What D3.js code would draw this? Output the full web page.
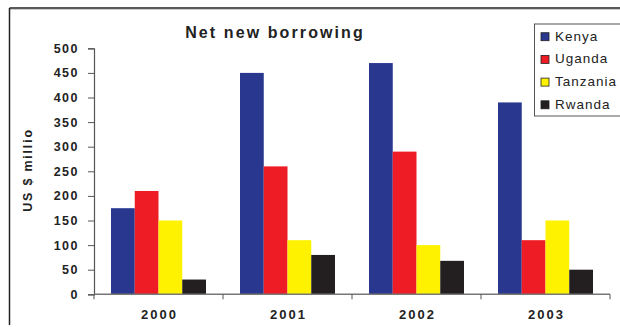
<!DOCTYPE html>
<html>
<head>
<meta charset="utf-8">
<script src="https://cdn.jsdelivr.net/npm/d3@7"></script>
<style>
  body { margin: 0; background: #fff; }
  svg { display: block; font-family: Arial, "Liberation Sans", sans-serif; }
</style>
</head>
<body>
<div id="chart"></div>
<script>
const years = ["2000", "2001", "2002", "2003"]
const countries = ["Kenya", "Uganda", "Tanzania", "Rwanda"]
const colors = ["#29378f", "#ee1d25", "#fff200", "#231f20"]
const kenya = [175, 450, 470, 390]
const uganda = [210, 260, 290, 110]
const tanzania = [150, 110, 100, 150]
const rwanda = [30, 80, 68, 50]
const yTicks = [0, 50, 100, 150, 200, 250, 300, 350, 400, 450, 500]

const seriesValues = [kenya, uganda, tanzania, rwanda]

const W = 620, H = 327
const margin = { top: 48.3, right: 10, bottom: 32.7, left: 94 }
const width = 610 - margin.left,
    height = 294.3 - margin.top

const svg = d3.select("#chart")
    .append("svg")
    .attr("width", W)
    .attr("height", H)

// outer frame (only top and left edges are visible in the picture)
svg.append("line").attr("x1", 9.5).attr("x2", W).attr("y1", 8).attr("y2", 8)
    .attr("stroke", "#222").attr("stroke-width", 1.5)
svg.append("line").attr("x1", 9.5).attr("x2", W).attr("y1", 9.5).attr("y2", 9.5)
    .attr("stroke", "#ccc").attr("stroke-width", 1)
svg.append("line").attr("x1", 9.5).attr("x2", 9.5).attr("y1", 8).attr("y2", 325)
    .attr("stroke", "#222").attr("stroke-width", 1.5)

const g = svg.append("g").attr("transform", `translate(${margin.left}, ${margin.top})`)

const x0 = d3.scaleBand().domain(years).range([0, width]).padding(0)
const x1 = d3.scaleBand().domain(countries).range([0, x0.bandwidth()])
    .paddingInner(0).paddingOuter(0.716)
const y = d3.scaleLinear().domain([0, 500]).range([height, 0])

// bars
const rows = []
years.forEach((yr, i) => {
    countries.forEach((c, j) => {
        rows.push({ year: yr, country: c, value: seriesValues[j][i], color: colors[j] })
    })
})

g.selectAll(".bar")
    .data(rows)
    .join("rect")
    .attr("class", "bar")
    .attr("x", d => x0(d.year) + x1(d.country))
    .attr("y", d => y(d.value))
    .attr("width", x1.bandwidth())
    .attr("height", d => height - y(d.value))
    .attr("fill", d => d.color)

// y axis
const yAxis = g.append("g")
    .call(d3.axisLeft(y).tickValues(yTicks).tickSize(6).tickPadding(9))
yAxis.select(".domain").attr("stroke", "#555").attr("stroke-width", 1.2)
yAxis.selectAll(".tick line").attr("stroke", "#555")
yAxis.selectAll("text")
    .attr("fill", "#222")
    .style("font-size", "12.5px")
    .style("font-weight", "bold")
    .style("letter-spacing", "1.5px")
    .style("font-family", "Arial, 'Liberation Sans', sans-serif")

// x axis: ticks sit on the category boundaries
const xAxisG = g.append("g").attr("transform", `translate(0, ${height})`)
xAxisG.append("line").attr("x1", 0).attr("x2", width).attr("y1", 0).attr("y2", 0)
    .attr("stroke", "#777").attr("stroke-width", 1.6)
xAxisG.selectAll(".xtick")
    .data(years.concat(["end"]))
    .join("line")
    .attr("class", "xtick")
    .attr("x1", (d, i) => i * x0.step())
    .attr("x2", (d, i) => i * x0.step())
    .attr("y1", 0).attr("y2", 5)
    .attr("stroke", "#555")
xAxisG.selectAll(".xlabel")
    .data(years)
    .join("text")
    .attr("class", "xlabel")
    .attr("x", d => x0(d) + x0.bandwidth() / 2 + 1)
    .attr("y", 25)
    .attr("text-anchor", "middle")
    .attr("fill", "#222")
    .style("font-size", "13px")
    .style("font-weight", "bold")
    .style("letter-spacing", "2px")
    .text(d => d)

// title
svg.append("text")
    .text("Net new borrowing")
    .attr("x", 275)
    .attr("y", 38.3)
    .attr("text-anchor", "middle")
    .attr("fill", "#222")
    .style("font-size", "16px")
    .style("font-weight", "bold")
    .style("letter-spacing", "2.1px")

// y axis title
svg.append("text")
    .text("US $ millio")
    .attr("transform", "translate(32, 170) rotate(-90)")
    .attr("text-anchor", "middle")
    .attr("fill", "#222")
    .style("font-size", "12.5px")
    .style("font-weight", "bold")
    .style("letter-spacing", "1.8px")

// legend
const legend = svg.append("g")
legend.append("rect")
    .attr("x", 534.5).attr("y", 24).attr("width", 100).attr("height", 92)
    .attr("fill", "#fff").attr("stroke", "#555").attr("stroke-width", 1)

const items = legend.selectAll(".item")
    .data(countries)
    .join("g")
    .attr("class", "item")
    .attr("transform", (d, i) => `translate(0, ${40.7 + i * 22.7})`)
items.append("rect")
    .attr("x", 541).attr("y", -8).attr("width", 8).attr("height", 8)
    .attr("fill", (d, i) => colors[i])
    .attr("stroke", "#222").attr("stroke-width", 0.8)
items.append("text")
    .attr("x", 555).attr("y", 0)
    .attr("fill", "#222")
    .style("font-size", "13.5px")
    .style("letter-spacing", "1px")
    .text(d => d)
</script>
</body>
</html>
